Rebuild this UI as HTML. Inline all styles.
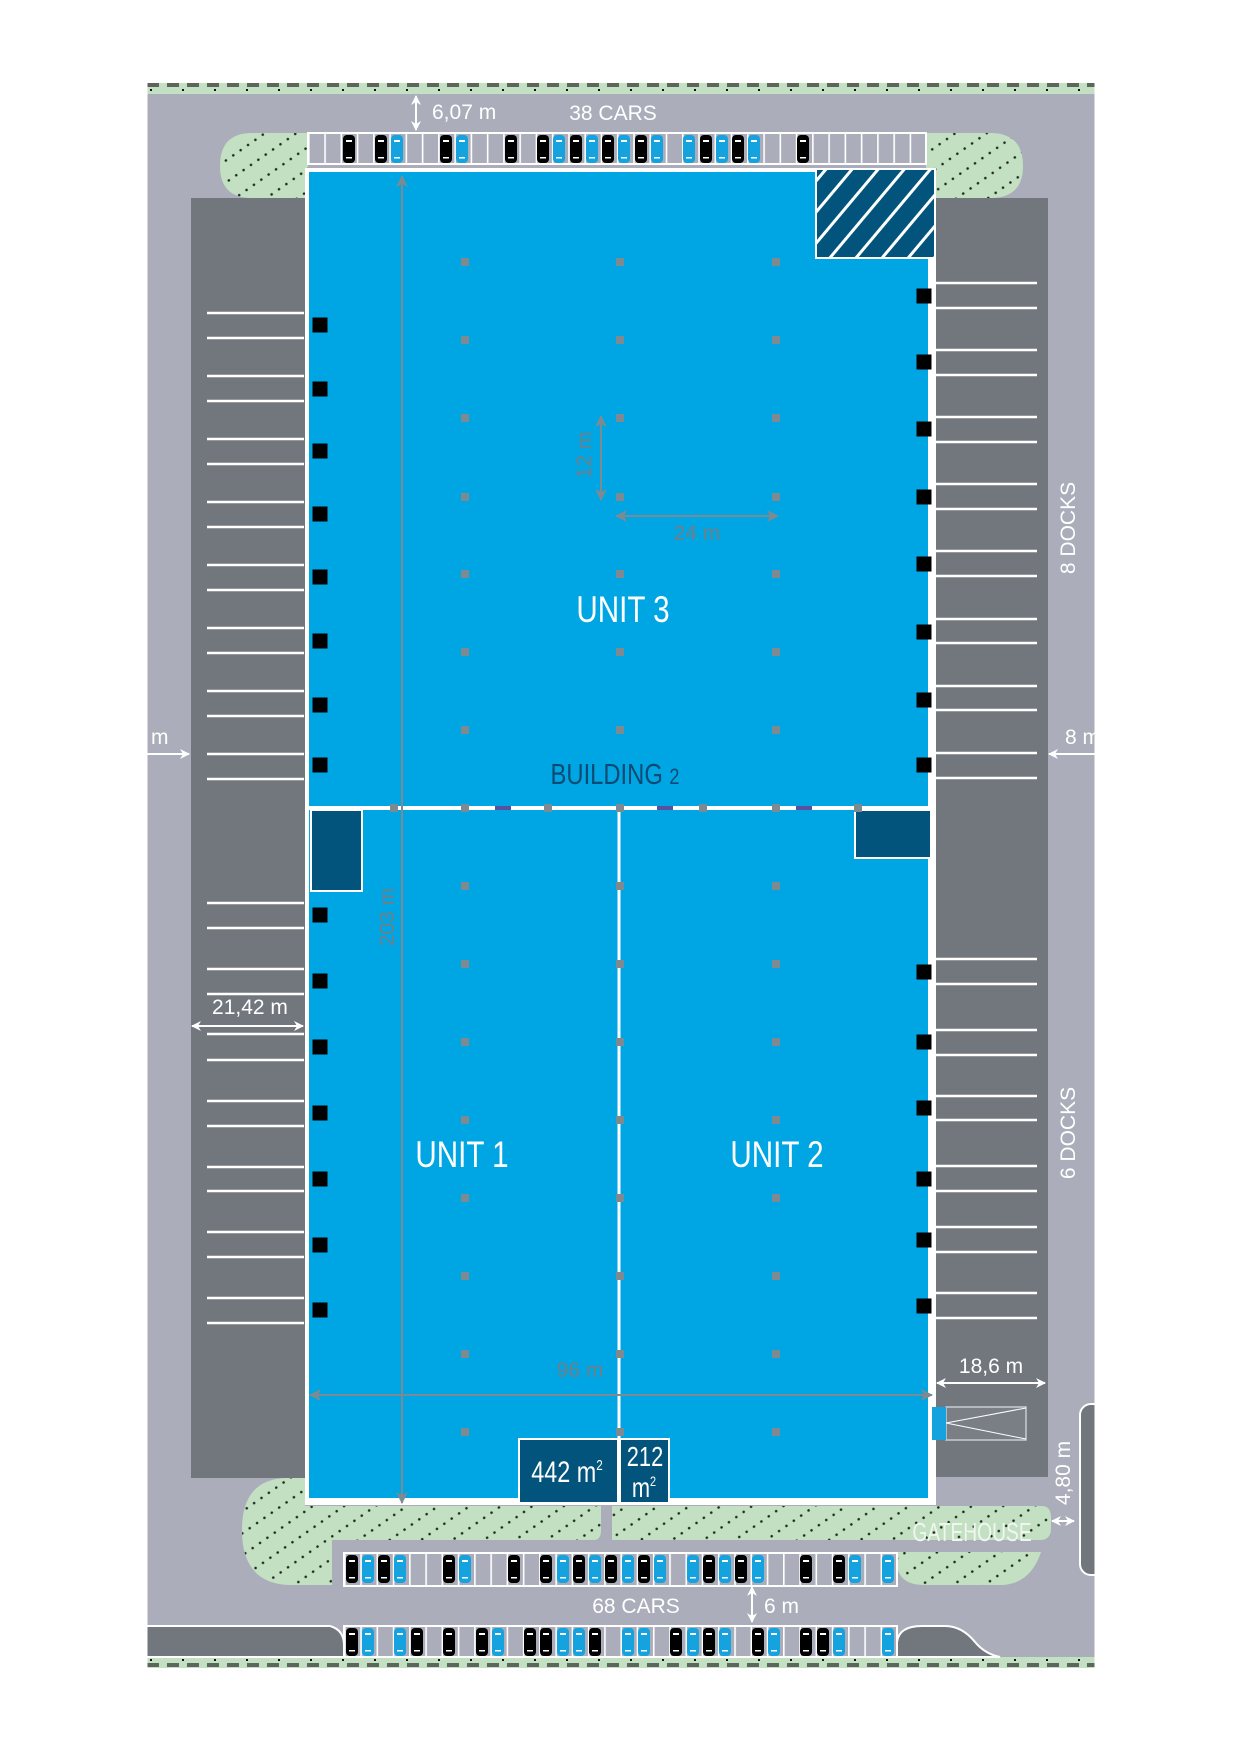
<!DOCTYPE html>
<html><head><meta charset="utf-8"><style>
html,body{margin:0;padding:0;background:#fff;}
svg{display:block;}
text{font-family:"Liberation Sans",sans-serif;}
</style></head><body>
<svg width="1240" height="1754" viewBox="0 0 1240 1754" xmlns="http://www.w3.org/2000/svg">
<defs>
<clipPath id="site"><rect x="147.5" y="83" width="947" height="1585"/></clipPath>
<pattern id="dots" width="18" height="18" patternUnits="userSpaceOnUse" patternTransform="rotate(-35)">
<rect width="18" height="18" fill="#c4e0c2"/><circle cx="3" cy="9" r="1.3" fill="#1d2a1d"/><circle cx="12" cy="9" r="1.3" fill="#1d2a1d"/>
</pattern>
<pattern id="hatch" width="20" height="20" patternUnits="userSpaceOnUse" patternTransform="rotate(40)">
<rect width="20" height="20" fill="#02547c"/><rect x="0" width="3" height="20" fill="#fff"/>
</pattern>
<pattern id="stT" x="308" y="0" width="16.26" height="40" patternUnits="userSpaceOnUse">
<rect width="16.26" height="40" fill="#abaeba"/><rect width="1.6" height="40" fill="#fff"/>
</pattern>
<pattern id="stB" x="344" y="0" width="16.26" height="40" patternUnits="userSpaceOnUse">
<rect width="16.26" height="40" fill="#abaeba"/><rect width="1.6" height="40" fill="#fff"/>
</pattern>
<g id="cb"><rect width="12" height="28" rx="4" fill="#000"/><rect x="3" y="5" width="6" height="2" fill="#fff"/><rect x="3" y="22" width="6" height="1.5" fill="#fff"/></g>
<g id="cc"><rect width="12" height="28" rx="4" fill="#15a3e0"/><rect x="3" y="5" width="6" height="2" fill="#fff"/><rect x="3" y="22" width="6" height="1.5" fill="#fff"/></g>
<g id="dk"><rect x="-7.5" y="-7.5" width="15" height="15" fill="#000"/></g>
<g id="col"><rect x="-4" y="-4" width="8" height="8" fill="#7d8a91"/></g>
<marker id="aw" markerWidth="10" markerHeight="10" refX="9" refY="5" orient="auto-start-reverse" markerUnits="userSpaceOnUse"><path d="M0,0 L10,5 L0,10 L3,5 Z" fill="#fff"/></marker>
<marker id="ag" markerWidth="12" markerHeight="12" refX="11" refY="6" orient="auto-start-reverse" markerUnits="userSpaceOnUse"><path d="M0,0 L12,6 L0,12 L3,6 Z" fill="#7d8a91"/></marker>
</defs>

<g clip-path="url(#site)">
<rect x="147.5" y="83" width="947" height="1585" fill="#abaeba"/>
<rect x="147.5" y="83" width="947" height="11" fill="#c4e0c2"/>
<line x1="147" y1="85" x2="1095" y2="85" stroke="#5c665d" stroke-width="4" stroke-dasharray="12 8"/>
<line x1="150" y1="90" x2="1095" y2="90" stroke="#111" stroke-width="2" stroke-dasharray="2 30"/>
<rect x="147.5" y="1657" width="947" height="11" fill="#c4e0c2"/>
<line x1="147" y1="1665" x2="1095" y2="1665" stroke="#5c665d" stroke-width="4" stroke-dasharray="12 8"/>
<line x1="150" y1="1660" x2="1095" y2="1660" stroke="#111" stroke-width="2" stroke-dasharray="2 30"/>

<rect x="191" y="198" width="114" height="1280" fill="#72777e"/>
<rect x="936" y="198" width="112" height="1279" fill="#72777e"/>
<g stroke="#fff" stroke-width="2.5">
<line x1="207" y1="313" x2="304" y2="313"/><line x1="207" y1="338" x2="304" y2="338"/>
<line x1="207" y1="376" x2="304" y2="376"/><line x1="207" y1="401" x2="304" y2="401"/>
<line x1="207" y1="439" x2="304" y2="439"/><line x1="207" y1="464" x2="304" y2="464"/>
<line x1="207" y1="502" x2="304" y2="502"/><line x1="207" y1="527" x2="304" y2="527"/>
<line x1="207" y1="565" x2="304" y2="565"/><line x1="207" y1="590" x2="304" y2="590"/>
<line x1="207" y1="628" x2="304" y2="628"/><line x1="207" y1="653" x2="304" y2="653"/>
<line x1="207" y1="691" x2="304" y2="691"/><line x1="207" y1="716" x2="304" y2="716"/>
<line x1="207" y1="754" x2="304" y2="754"/><line x1="207" y1="779" x2="304" y2="779"/>
<line x1="207" y1="903" x2="304" y2="903"/><line x1="207" y1="928" x2="304" y2="928"/>
<line x1="207" y1="969" x2="304" y2="969"/><line x1="207" y1="994" x2="304" y2="994"/>
<line x1="207" y1="1034" x2="304" y2="1034"/><line x1="207" y1="1060" x2="304" y2="1060"/>
<line x1="207" y1="1101" x2="304" y2="1101"/><line x1="207" y1="1126" x2="304" y2="1126"/>
<line x1="207" y1="1167" x2="304" y2="1167"/><line x1="207" y1="1191" x2="304" y2="1191"/>
<line x1="207" y1="1232" x2="304" y2="1232"/><line x1="207" y1="1257" x2="304" y2="1257"/>
<line x1="207" y1="1298" x2="304" y2="1298"/><line x1="207" y1="1323" x2="304" y2="1323"/>
<line x1="936" y1="283" x2="1037" y2="283"/><line x1="936" y1="308" x2="1037" y2="308"/>
<line x1="936" y1="350" x2="1037" y2="350"/><line x1="936" y1="375" x2="1037" y2="375"/>
<line x1="936" y1="417" x2="1037" y2="417"/><line x1="936" y1="442" x2="1037" y2="442"/>
<line x1="936" y1="484" x2="1037" y2="484"/><line x1="936" y1="509" x2="1037" y2="509"/>
<line x1="936" y1="551" x2="1037" y2="551"/><line x1="936" y1="576" x2="1037" y2="576"/>
<line x1="936" y1="619" x2="1037" y2="619"/><line x1="936" y1="643" x2="1037" y2="643"/>
<line x1="936" y1="686" x2="1037" y2="686"/><line x1="936" y1="710" x2="1037" y2="710"/>
<line x1="936" y1="753" x2="1037" y2="753"/><line x1="936" y1="778" x2="1037" y2="778"/>
<line x1="936" y1="959" x2="1037" y2="959"/><line x1="936" y1="984" x2="1037" y2="984"/>
<line x1="936" y1="1030" x2="1037" y2="1030"/><line x1="936" y1="1055" x2="1037" y2="1055"/>
<line x1="936" y1="1096" x2="1037" y2="1096"/><line x1="936" y1="1120" x2="1037" y2="1120"/>
<line x1="936" y1="1166" x2="1037" y2="1166"/><line x1="936" y1="1191" x2="1037" y2="1191"/>
<line x1="936" y1="1227" x2="1037" y2="1227"/><line x1="936" y1="1252" x2="1037" y2="1252"/>
<line x1="936" y1="1293" x2="1037" y2="1293"/><line x1="936" y1="1318" x2="1037" y2="1318"/>
</g>
<rect x="946" y="1407" width="80" height="33" fill="#7a7f86" stroke="#c8ccd2" stroke-width="1.5"/>
<path d="M946,1423 L1026,1408 M946,1423 L1026,1439" stroke="#fff" stroke-width="1"/>
<rect x="1080" y="1404" width="24" height="171" rx="11" fill="#72777e" stroke="#fff" stroke-width="2"/>

<path d="M308,133 H252 Q220,133 220,166 Q220,198 252,198 H308 Z" fill="url(#dots)"/>
<path d="M926,133 H990 Q1023,133 1023,166 Q1023,198 990,198 H926 Z" fill="url(#dots)"/>

<rect x="308" y="133" width="618" height="31" fill="url(#stT)" stroke="#fff" stroke-width="2"/>
<use href="#cb" x="343" y="135"/><use href="#cb" x="375" y="135"/><use href="#cc" x="391" y="135"/>
<use href="#cb" x="440" y="135"/><use href="#cc" x="456" y="135"/><use href="#cb" x="505" y="135"/>
<use href="#cb" x="537" y="135"/><use href="#cc" x="553" y="135"/><use href="#cb" x="570" y="135"/>
<use href="#cc" x="586" y="135"/><use href="#cb" x="602" y="135"/><use href="#cc" x="618" y="135"/>
<use href="#cb" x="635" y="135"/><use href="#cc" x="651" y="135"/><use href="#cc" x="683" y="135"/>
<use href="#cb" x="700" y="135"/><use href="#cc" x="716" y="135"/><use href="#cb" x="732" y="135"/>
<use href="#cc" x="748" y="135"/><use href="#cb" x="797" y="135"/>

<path d="M305,1478 H285 Q242,1480 242,1530 Q242,1585 292,1585 H332 V1540 H594 Q601,1540 601,1530 V1506 H305 Z" fill="url(#dots)"/>
<path d="M612,1506 H1042 Q1051,1506 1051,1518 V1528 Q1051,1540 1040,1540 H612 Z" fill="url(#dots)"/>
<path d="M897,1552 H1041 Q1030,1585 1000,1585 H925 Q897,1585 897,1562 Z" fill="url(#dots)"/>

<path d="M140,1626 H330 Q344,1630 344,1645 V1657 H140 Z" fill="#72777e" stroke="#fff" stroke-width="2"/>
<path d="M897,1657 V1642 Q899,1626 922,1626 H945 Q962,1626 975,1642 Q985,1654 1000,1657 Z" fill="#72777e" stroke="#fff" stroke-width="2"/>

<rect x="344" y="1553" width="553" height="33" fill="url(#stB)" stroke="#fff" stroke-width="2"/>
<rect x="344" y="1626" width="553" height="31" fill="url(#stB)" stroke="#fff" stroke-width="2"/>
<g transform="translate(0,1555)">
<use href="#cb" x="346"/><use href="#cc" x="362"/><use href="#cb" x="378"/><use href="#cc" x="394"/>
<use href="#cb" x="443"/><use href="#cc" x="459"/><use href="#cb" x="508"/><use href="#cb" x="540"/>
<use href="#cc" x="557"/><use href="#cb" x="573"/><use href="#cc" x="589"/><use href="#cb" x="605"/>
<use href="#cc" x="622"/><use href="#cb" x="638"/><use href="#cc" x="654"/><use href="#cc" x="687"/>
<use href="#cb" x="703"/><use href="#cc" x="719"/><use href="#cb" x="735"/><use href="#cc" x="752"/>
<use href="#cb" x="800"/><use href="#cb" x="833"/><use href="#cc" x="849"/><use href="#cc" x="882"/>
</g>
<g transform="translate(0,1628)">
<use href="#cb" x="346"/><use href="#cc" x="362"/><use href="#cc" x="394"/><use href="#cb" x="411"/>
<use href="#cb" x="443"/><use href="#cb" x="476"/><use href="#cc" x="492"/><use href="#cb" x="524"/>
<use href="#cb" x="540"/><use href="#cc" x="557"/><use href="#cc" x="573"/><use href="#cb" x="589"/>
<use href="#cc" x="622"/><use href="#cc" x="638"/><use href="#cb" x="670"/><use href="#cc" x="687"/>
<use href="#cb" x="703"/><use href="#cc" x="719"/><use href="#cb" x="752"/><use href="#cc" x="768"/>
<use href="#cb" x="800"/><use href="#cb" x="817"/><use href="#cc" x="833"/><use href="#cc" x="882"/>
</g>

<rect x="305" y="168" width="631" height="1337" fill="#fff"/>
<rect x="309" y="172" width="619" height="1326" fill="#00a6e3"/>
<rect x="816" y="169" width="119" height="89" fill="url(#hatch)" stroke="#fff" stroke-width="2"/>
<rect x="309" y="806" width="619" height="4" fill="#fff"/>
<rect x="617.5" y="810" width="3" height="688" fill="#fff"/>
<rect x="311" y="810" width="51" height="81" fill="#02547c" stroke="#fff" stroke-width="2"/>
<rect x="855" y="810" width="76" height="48" fill="#02547c" stroke="#fff" stroke-width="2"/>
<rect x="932" y="1407" width="14" height="33" fill="#15a3e0"/>

<g>
<use href="#col" x="465" y="262"/><use href="#col" x="620" y="262"/><use href="#col" x="776" y="262"/>
<use href="#col" x="465" y="340"/><use href="#col" x="620" y="340"/><use href="#col" x="776" y="340"/>
<use href="#col" x="465" y="418"/><use href="#col" x="620" y="418"/><use href="#col" x="776" y="418"/>
<use href="#col" x="465" y="497"/><use href="#col" x="620" y="497"/><use href="#col" x="776" y="497"/>
<use href="#col" x="465" y="574"/><use href="#col" x="620" y="574"/><use href="#col" x="776" y="574"/>
<use href="#col" x="465" y="652"/><use href="#col" x="620" y="652"/><use href="#col" x="776" y="652"/>
<use href="#col" x="465" y="730"/><use href="#col" x="620" y="730"/><use href="#col" x="776" y="730"/>
<use href="#col" x="394" y="808"/><use href="#col" x="465" y="808"/><use href="#col" x="548" y="808"/><use href="#col" x="620" y="808"/><use href="#col" x="703" y="808"/><use href="#col" x="776" y="808"/><use href="#col" x="858" y="808"/>
<use href="#col" x="465" y="886"/><use href="#col" x="620" y="886"/><use href="#col" x="776" y="886"/>
<use href="#col" x="465" y="964"/><use href="#col" x="620" y="964"/><use href="#col" x="776" y="964"/>
<use href="#col" x="465" y="1042"/><use href="#col" x="620" y="1042"/><use href="#col" x="776" y="1042"/>
<use href="#col" x="465" y="1120"/><use href="#col" x="620" y="1120"/><use href="#col" x="776" y="1120"/>
<use href="#col" x="465" y="1198"/><use href="#col" x="620" y="1198"/><use href="#col" x="776" y="1198"/>
<use href="#col" x="465" y="1276"/><use href="#col" x="620" y="1276"/><use href="#col" x="776" y="1276"/>
<use href="#col" x="465" y="1354"/><use href="#col" x="620" y="1354"/><use href="#col" x="776" y="1354"/>
<use href="#col" x="465" y="1432"/><use href="#col" x="620" y="1432"/><use href="#col" x="776" y="1432"/>
</g>
<rect x="495" y="806" width="16" height="4" fill="#5b4fa0"/>
<rect x="657" y="806" width="16" height="4" fill="#5b4fa0"/>
<rect x="796" y="806" width="16" height="4" fill="#5b4fa0"/>

<g>
<use href="#dk" x="320" y="325"/><use href="#dk" x="320" y="389"/><use href="#dk" x="320" y="451"/><use href="#dk" x="320" y="514"/>
<use href="#dk" x="320" y="577"/><use href="#dk" x="320" y="641"/><use href="#dk" x="320" y="705"/><use href="#dk" x="320" y="765"/>
<use href="#dk" x="320" y="915"/><use href="#dk" x="320" y="981"/><use href="#dk" x="320" y="1047"/><use href="#dk" x="320" y="1113"/>
<use href="#dk" x="320" y="1179"/><use href="#dk" x="320" y="1245"/><use href="#dk" x="320" y="1310"/>
<use href="#dk" x="924" y="296"/><use href="#dk" x="924" y="362"/><use href="#dk" x="924" y="429"/><use href="#dk" x="924" y="497"/>
<use href="#dk" x="924" y="564"/><use href="#dk" x="924" y="632"/><use href="#dk" x="924" y="700"/><use href="#dk" x="924" y="765"/>
<use href="#dk" x="924" y="972"/><use href="#dk" x="924" y="1042"/><use href="#dk" x="924" y="1108"/><use href="#dk" x="924" y="1179"/>
<use href="#dk" x="924" y="1240"/><use href="#dk" x="924" y="1306"/>
</g>

<rect x="519" y="1439" width="99" height="64" fill="#02547c" stroke="#fff" stroke-width="2"/>
<rect x="620" y="1439" width="49" height="64" fill="#02547c" stroke="#fff" stroke-width="2"/>

<line x1="402" y1="176" x2="402" y2="1503" stroke="#7d8a91" stroke-width="2" marker-start="url(#ag)" marker-end="url(#ag)"/>
<line x1="310" y1="1395" x2="932" y2="1395" stroke="#7d8a91" stroke-width="2" marker-start="url(#ag)" marker-end="url(#ag)"/>
<line x1="601" y1="416" x2="601" y2="500" stroke="#7d8a91" stroke-width="2" marker-start="url(#ag)" marker-end="url(#ag)"/>
<line x1="616" y1="516" x2="778" y2="516" stroke="#7d8a91" stroke-width="2" marker-start="url(#ag)" marker-end="url(#ag)"/>

<g stroke="#fff" stroke-width="2" fill="none">
<line x1="416" y1="96" x2="416" y2="130" marker-start="url(#aw)" marker-end="url(#aw)"/>
<line x1="147" y1="754" x2="189" y2="754" marker-end="url(#aw)"/>
<line x1="1096" y1="754" x2="1049" y2="754" marker-end="url(#aw)"/>
<line x1="192" y1="1026" x2="303" y2="1026" marker-start="url(#aw)" marker-end="url(#aw)"/>
<line x1="937" y1="1383" x2="1045" y2="1383" marker-start="url(#aw)" marker-end="url(#aw)"/>
<line x1="1052" y1="1521" x2="1074" y2="1521" marker-start="url(#aw)" marker-end="url(#aw)"/>
<line x1="752" y1="1587" x2="752" y2="1622" marker-start="url(#aw)" marker-end="url(#aw)"/>
</g>

<g fill="#fff" font-size="21">
<text x="432" y="119">6,07 m</text>
<text x="613" y="120" text-anchor="middle">38 CARS</text>
<text x="151" y="744">m</text>
<text x="1065" y="744">8 m</text>
<text x="250" y="1014" text-anchor="middle">21,42 m</text>
<text x="991" y="1373" text-anchor="middle">18,6 m</text>
<text x="636" y="1613" text-anchor="middle">68 CARS</text>
<text x="764" y="1613">6 m</text>
<text transform="translate(1075,528) rotate(-90)" text-anchor="middle">8 DOCKS</text>
<text transform="translate(1075,1133) rotate(-90)" text-anchor="middle">6 DOCKS</text>
<text transform="translate(1070,1473) rotate(-90)" text-anchor="middle">4,80 m</text>
</g>
<text transform="translate(972,1541) scale(0.74,1)" text-anchor="middle" font-size="26" fill="#eef6ee">GATEHOUSE</text>
<g fill="#fff" font-size="37" text-anchor="middle">
<text transform="translate(623,622) scale(0.8,1)">UNIT 3</text>
<text transform="translate(462,1167) scale(0.8,1)">UNIT 1</text>
<text transform="translate(777,1167) scale(0.8,1)">UNIT 2</text>
</g>
<text transform="translate(615,784) scale(0.82,1)" text-anchor="middle" font-size="29" fill="#0b4a73">BUILDING <tspan font-size="22">2</tspan></text>
<g fill="#6f7f8a" font-size="21">
<text transform="translate(591,455) rotate(-90)" text-anchor="middle">12 m</text>
<text x="697" y="540" text-anchor="middle">24 m</text>
<text transform="translate(394,917) rotate(-90)" text-anchor="middle">203 m</text>
<text x="580" y="1377" text-anchor="middle">96 m</text>
</g>
<text transform="translate(567,1482) scale(0.78,1)" text-anchor="middle" font-size="30" fill="#fff">442 m<tspan font-size="15" dy="-12">2</tspan></text>
<text transform="translate(645,1466) scale(0.78,1)" text-anchor="middle" font-size="28" fill="#fff">212</text>
<text transform="translate(644,1497) scale(0.78,1)" text-anchor="middle" font-size="28" fill="#fff">m<tspan font-size="14" dy="-11">2</tspan></text>
</g>
</svg>
</body></html>
